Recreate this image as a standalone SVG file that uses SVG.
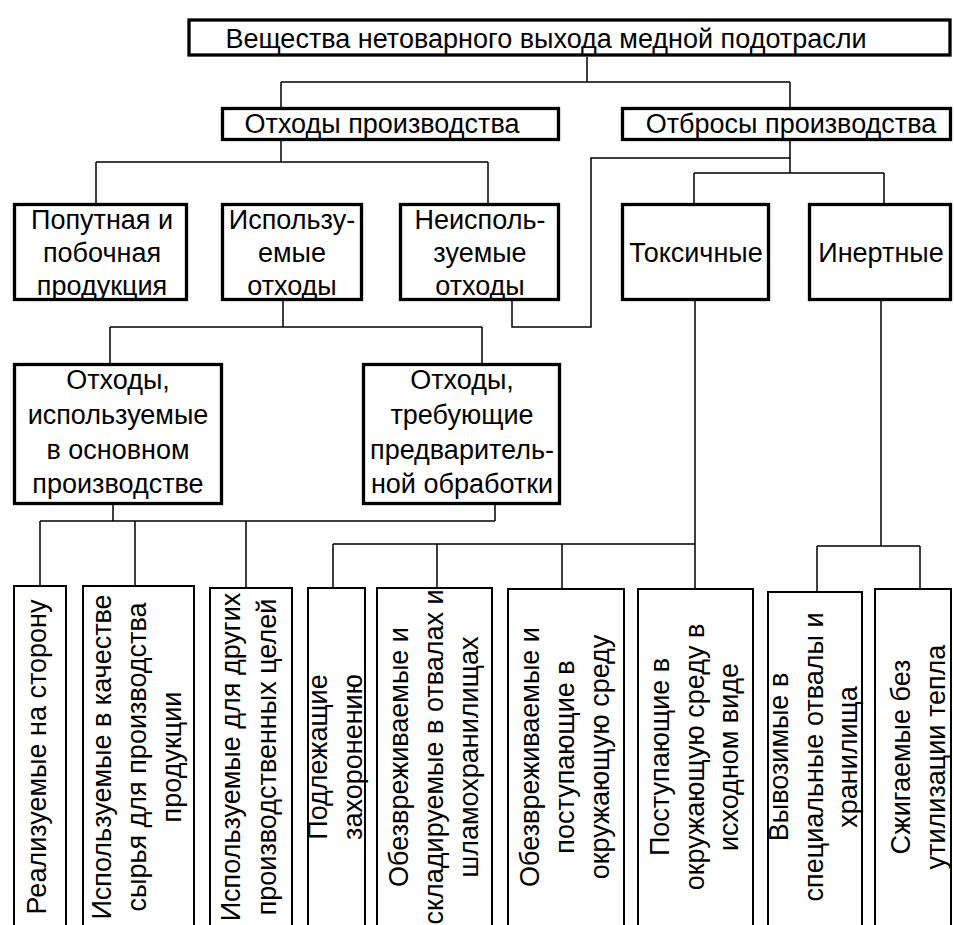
<svg xmlns="http://www.w3.org/2000/svg" width="954" height="925" viewBox="0 0 954 925">
<style>
.b{fill:#fff;stroke:#000;stroke-width:3.3}
.s{fill:#fff;stroke:#000;stroke-width:2}
.t{font-family:"Liberation Sans",Arial,sans-serif;font-size:27px;fill:#000;text-anchor:middle}
.c{fill:none;stroke:#000;stroke-width:1.5}
</style>
<rect width="954" height="925" fill="#fff"/>
<g id="connectors" class="c">
<path d="M587,57V82M281,82H790M281,82V107M790,82V107"/>
<path d="M281,141V162M96,162H488M96,162V203M488,162V203"/>
<path d="M790,141V173M694,173H884M694,173V203M884,173V203"/>
<path d="M512,301V327H591V158H790"/>
<path d="M283,301V327M110,327H482M110,327V363M482,327V363"/>
<path d="M113,505V521M495,505V521M40,521H495M40,521V585M135,521V585M246,521V587"/>
<path d="M695,301V588M333,544H695M333,544V587M437,544V587M562,544V588"/>
<path d="M881,301V546M817,546H920M817,546V591M920,546V588"/>
</g>
<g id="n-root"><rect class="b" x="189" y="20" width="761" height="35"/><text class="t" x="546" y="48">Вещества нетоварного выхода медной подотрасли</text></g>
<g id="n-othody"><rect class="b" x="222.5" y="108.5" width="336" height="31"/><text class="t" x="382" y="133">Отходы производства</text></g>
<g id="n-otbrosy"><rect class="b" x="622.5" y="108.5" width="328" height="31"/><text class="t" x="791" y="133">Отбросы производства</text></g>
<g id="n-poputnaya"><rect class="b" x="14.5" y="204.5" width="172" height="95"/><text class="t"><tspan x="102" y="229">Попутная и</tspan><tspan x="102" y="262">побочная</tspan><tspan x="102" y="295">продукция</tspan></text></g>
<g id="n-ispolz"><rect class="b" x="222.5" y="204.5" width="139" height="95"/><text class="t"><tspan x="292" y="229">Использу-</tspan><tspan x="292" y="262">емые</tspan><tspan x="292" y="295">отходы</tspan></text></g>
<g id="n-neispolz"><rect class="b" x="400.5" y="204.5" width="158" height="95"/><text class="t"><tspan x="480" y="229">Неисполь-</tspan><tspan x="480" y="262">зуемые</tspan><tspan x="480" y="295">отходы</tspan></text></g>
<g id="n-toks"><rect class="b" x="622.5" y="204.5" width="146" height="95"/><text class="t" x="696" y="262">Токсичные</text></g>
<g id="n-inert"><rect class="b" x="809.5" y="204.5" width="141" height="95"/><text class="t" x="881" y="262">Инертные</text></g>
<g id="n-osn"><rect class="b" x="14.5" y="364.5" width="207" height="139"/><text class="t"><tspan x="118" y="389">Отходы,</tspan><tspan x="118" y="424">используемые</tspan><tspan x="118" y="459">в основном</tspan><tspan x="118" y="493">производстве</tspan></text></g>
<g id="n-pred"><rect class="b" x="363.5" y="364.5" width="196" height="139"/><text class="t"><tspan x="462" y="389">Отходы,</tspan><tspan x="462" y="424">требующие</tspan><tspan x="462" y="459">предваритель-</tspan><tspan x="462" y="493">ной обработки</tspan></text></g>
<g id="n-b1"><rect class="s" x="14" y="586" width="52" height="345"/><text class="t" transform="translate(0,757) rotate(-90)"><tspan x="0" y="46">Реализуемые на сторону</tspan></text></g>
<g id="n-b2"><rect class="s" x="83" y="586" width="111" height="345"/><text class="t" transform="translate(0,757) rotate(-90)"><tspan x="0" y="111">Используемые в качестве</tspan><tspan x="0" y="146">сырья для производства</tspan><tspan x="0" y="181">продукции</tspan></text></g>
<g id="n-b3"><rect class="s" x="210" y="588" width="82" height="345"/><text class="t" transform="translate(0,757) rotate(-90)"><tspan x="0" y="240">Используемые для других</tspan><tspan x="0" y="276">производственных целей</tspan></text></g>
<g id="n-b4"><rect class="s" x="308" y="588" width="57" height="345"/><text class="t" transform="translate(0,757) rotate(-90)"><tspan x="0" y="327">Подлежащие</tspan><tspan x="0" y="362">захоронению</tspan></text></g>
<g id="n-b5"><rect class="s" x="377" y="588" width="115" height="345"/><text class="t" transform="translate(0,757) rotate(-90)"><tspan x="0" y="408">Обезвреживаемые и</tspan><tspan x="0" y="443">складируемые в отвалах и</tspan><tspan x="0" y="478">шламохранилищах</tspan></text></g>
<g id="n-b6"><rect class="s" x="508" y="589" width="116" height="345"/><text class="t" transform="translate(0,757) rotate(-90)"><tspan x="0" y="539">Обезвреживаемые и</tspan><tspan x="0" y="574">поступающие в</tspan><tspan x="0" y="609">окружающую среду</tspan></text></g>
<g id="n-b7"><rect class="s" x="638" y="589" width="115" height="345"/><text class="t" transform="translate(0,757) rotate(-90)"><tspan x="0" y="669">Поступающие в</tspan><tspan x="0" y="704">окружающую среду в</tspan><tspan x="0" y="738">исходном виде</tspan></text></g>
<g id="n-b8"><rect class="s" x="768" y="592" width="94" height="345"/><text class="t" transform="translate(0,757) rotate(-90)"><tspan x="0" y="788">Вывозимые в</tspan><tspan x="0" y="823">специальные отвалы и</tspan><tspan x="0" y="857">хранилища</tspan></text></g>
<g id="n-b9"><rect class="s" x="875" y="589" width="76" height="345"/><text class="t" transform="translate(0,757) rotate(-90)"><tspan x="0" y="910">Сжигаемые без</tspan><tspan x="0" y="945">утилизации тепла</tspan></text></g>
</svg>
